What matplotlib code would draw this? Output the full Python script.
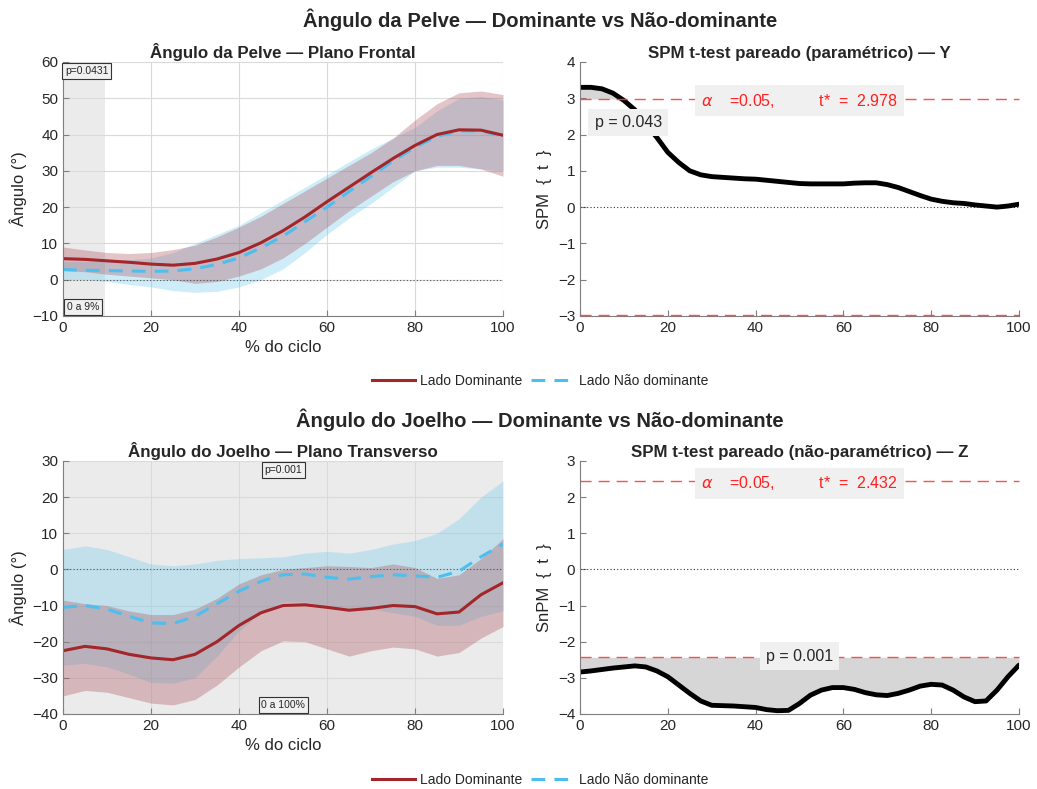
import matplotlib
matplotlib.use('Agg')
import matplotlib.pyplot as plt
from matplotlib.lines import Line2D
import numpy as np

plt.rcParams['font.family'] = ['Liberation Sans', 'DejaVu Sans']

# % do ciclo
ciclo = np.arange(0, 101, 5)
ciclo_spm = np.arange(0, 100.1, 2.5)

# Pelve - plano frontal
pelve_dom = [5.8, 5.6, 5.2, 4.8, 4.3, 4.0, 4.5, 5.7, 7.5, 10.2, 13.5, 17.3, 21.5, 25.5, 29.5, 33.4, 37.0, 40.0, 41.3, 41.2, 39.8]
pelve_dom_sup = [9.0, 8.2, 7.5, 7.2, 7.5, 8.3, 9.5, 11.8, 14.5, 17.5, 21.0, 24.5, 28.0, 31.5, 35.0, 39.0, 44.0, 48.5, 51.5, 52.0, 51.0]
pelve_dom_inf = [2.5, 2.2, 1.5, 1.0, 0.5, 0.0, -1.0, -0.5, 1.0, 3.0, 6.0, 10.0, 14.5, 19.0, 23.0, 27.0, 30.0, 31.5, 31.5, 30.5, 28.5]
pelve_nd = [2.8, 2.6, 2.5, 2.4, 2.3, 2.4, 3.0, 4.2, 6.0, 8.8, 12.0, 16.0, 20.0, 24.3, 28.5, 32.7, 36.5, 39.5, 41.0, 41.0, 39.6]
pelve_nd_sup = [5.0, 5.0, 5.0, 5.5, 6.0, 7.5, 10.0, 12.5, 15.0, 18.5, 22.0, 25.5, 29.0, 32.5, 36.0, 39.0, 42.0, 46.5, 50.0, 50.5, 49.5]
pelve_nd_inf = [0.0, 0.0, -0.5, -1.3, -2.0, -3.0, -3.5, -3.2, -2.0, 0.0, 3.0, 7.5, 12.5, 17.0, 21.0, 25.5, 30.0, 31.0, 31.0, 30.5, 30.0]

# SPM pelve (passo de 2.5%)
spm_y = [3.30, 3.30, 3.26, 3.14, 2.94, 2.68, 2.29, 1.92, 1.51, 1.23, 1.00, 0.89, 0.84, 0.82,
         0.80, 0.78, 0.77, 0.74, 0.71, 0.68, 0.65, 0.64, 0.64, 0.64, 0.64, 0.66, 0.67, 0.67,
         0.62, 0.54, 0.43, 0.32, 0.22, 0.16, 0.12, 0.10, 0.06, 0.03, 0.00, 0.03, 0.08]
tstar_y = 2.978

# Joelho - plano transverso
joelho_dom = [-22.5, -21.3, -22.0, -23.5, -24.5, -25.0, -23.5, -20.0, -15.5, -12.0, -10.0, -9.8, -10.5, -11.3, -10.8, -10.0, -10.3, -12.3, -11.8, -7.0, -3.7]
joelho_dom_sup = [-8.5, -9.5, -10.0, -11.5, -12.5, -12.5, -11.0, -8.0, -4.0, -1.5, 0.0, 0.5, 1.0, 0.8, 0.5, 1.5, 0.5, -2.5, -1.5, 3.0, 8.5]
joelho_dom_inf = [-35.0, -33.5, -34.0, -35.5, -37.0, -37.5, -36.0, -32.0, -27.0, -22.5, -19.8, -20.0, -22.0, -24.0, -22.5, -21.5, -22.0, -24.0, -23.0, -19.0, -15.8]
joelho_nd = [-10.5, -10.0, -11.0, -13.0, -14.8, -15.0, -13.0, -9.5, -6.0, -3.3, -1.5, -1.3, -2.2, -2.7, -2.0, -1.5, -1.8, -2.2, -0.5, 3.5, 7.0]
joelho_nd_sup = [5.5, 6.5, 5.5, 3.5, 1.5, 1.0, 1.5, 2.5, 3.0, 3.2, 3.5, 4.5, 5.0, 4.5, 5.5, 7.0, 8.0, 10.0, 14.0, 20.0, 24.5]
joelho_nd_inf = [-26.5, -26.0, -27.0, -29.0, -31.3, -31.5, -30.0, -24.0, -17.0, -12.0, -9.0, -9.0, -10.0, -11.0, -11.0, -12.0, -13.0, -15.5, -15.5, -13.0, -11.5]

# SnPM joelho (passo de 2.5%)
snpm_z = [-2.84, -2.81, -2.77, -2.73, -2.70, -2.67, -2.70, -2.81, -2.97, -3.20, -3.43, -3.64,
          -3.76, -3.77, -3.78, -3.80, -3.82, -3.88, -3.91, -3.90, -3.71, -3.48, -3.34, -3.27,
          -3.27, -3.32, -3.41, -3.47, -3.49, -3.43, -3.34, -3.23, -3.18, -3.20, -3.34, -3.53,
          -3.66, -3.64, -3.34, -2.97, -2.65]
tstar_z = 2.432

COR_DOM = '#a2262a'
COR_ND = '#4dbeee'
TXT = '#262626'
FUNDO = '#ebebeb'


def estilo(ax, grid=True):
    for s in ['top', 'right']:
        ax.spines[s].set_visible(False)
    for s in ['left', 'bottom']:
        ax.spines[s].set_color('#7f7f7f')
    ax.tick_params(direction='in', length=4, colors='#7f7f7f', labelcolor=TXT, labelsize=11)
    if grid:
        ax.grid(True, color='#dadada', lw=0.8)
        ax.set_axisbelow(True)
    ax.set_xlim(0, 100)
    ax.set_xticks([0, 20, 40, 60, 80, 100])


def curvas(ax, dom, dsup, dinf, nd, nsup, ninf):
    ax.axhline(0, color='#555555', lw=0.8, ls=(0, (1, 2)))
    ax.fill_between(ciclo, ninf, nsup, color='#6bc9eb', alpha=0.32, lw=0)
    ax.plot(ciclo, nd, color=COR_ND, lw=2.2, ls=(0, (4.5, 3)))
    ax.fill_between(ciclo, dinf, dsup, color='#a84c58', alpha=0.32, lw=0)
    ax.plot(ciclo, dom, color=COR_DOM, lw=2.2)


def caixa(ax, x, y, s):
    ax.text(x, y, s, fontsize=7.5, color=TXT, ha='center', va='center',
            bbox=dict(boxstyle='square,pad=0.25', fc='#f0f0f0', ec='#333333', lw=0.8))


def spm(ax, t, tstar, ylim, ylabel, label_p, px, py):
    estilo(ax, grid=False)
    t = np.array(t)
    ax.set_ylim(*ylim)
    ax.axhline(0, color='#333333', lw=0.8, ls=(0, (1, 2)))
    for s in [tstar, -tstar]:
        ax.axhline(s, color='#ff3b3b', lw=1.0, ls=(0, (8, 5)), alpha=0.9, clip_on=False, zorder=3)
    ax.fill_between(ciclo_spm, t, tstar, where=t > tstar, interpolate=True, color='#d6d6d6', lw=0)
    ax.fill_between(ciclo_spm, t, -tstar, where=t < -tstar, interpolate=True, color='#d6d6d6', lw=0)
    ax.plot(ciclo_spm, t, color='black', lw=3.5, solid_capstyle='round', solid_joinstyle='round')
    ax.set_ylabel(ylabel, fontsize=12, color=TXT)
    ax.text(50, tstar - 0.05, r'$\alpha$    =0.05,          t*  =  %.3f' % tstar, color='#ff2020',
            fontsize=11.5, ha='center', va='center',
            bbox=dict(boxstyle='square,pad=0.4', fc='#f0f0f0', ec='none'))
    ax.text(px, py, label_p, color=TXT, fontsize=11.5, ha='center', va='center',
            bbox=dict(boxstyle='square,pad=0.4', fc='#f0f0f0', ec='none'))


fig = plt.figure(figsize=(10.37, 7.89), dpi=100)

ax1 = fig.add_axes([0.0608, 0.5995, 0.4243, 0.322])
ax2 = fig.add_axes([0.5593, 0.5995, 0.4233, 0.322])
ax3 = fig.add_axes([0.0608, 0.0951, 0.4243, 0.3207])
ax4 = fig.add_axes([0.5593, 0.0951, 0.4233, 0.3207])

# pelve
estilo(ax1)
ax1.axvspan(0, 9.5, color=FUNDO, lw=0, zorder=0)
curvas(ax1, pelve_dom, pelve_dom_sup, pelve_dom_inf, pelve_nd, pelve_nd_sup, pelve_nd_inf)
ax1.set_ylim(-10, 60)
ax1.set_yticks(range(-10, 61, 10))
ax1.set_title('Ângulo da Pelve — Plano Frontal', fontsize=12.2, fontweight='bold', color=TXT, pad=3)
ax1.set_ylabel('Ângulo (°)', fontsize=12, color=TXT)
ax1.set_xlabel('% do ciclo', fontsize=12, color=TXT)
caixa(ax1, 5.4, 57.5, 'p=0.0431')
caixa(ax1, 4.6, -7.5, '0 a 9%')

spm(ax2, spm_y, tstar_y, (-3, 4), 'SPM  {  t  }', 'p = 0.043', 11, 2.33)
ax2.set_title('SPM t-test pareado (paramétrico) — Y', fontsize=12.2, fontweight='bold', color=TXT, pad=3)

# joelho
estilo(ax3)
ax3.axvspan(0, 100, color=FUNDO, lw=0, zorder=0)
curvas(ax3, joelho_dom, joelho_dom_sup, joelho_dom_inf, joelho_nd, joelho_nd_sup, joelho_nd_inf)
ax3.set_ylim(-40, 30)
ax3.set_yticks(range(-40, 31, 10))
ax3.set_title('Ângulo do Joelho — Plano Transverso', fontsize=12.2, fontweight='bold', color=TXT, pad=3)
ax3.set_ylabel('Ângulo (°)', fontsize=12, color=TXT)
ax3.set_xlabel('% do ciclo', fontsize=12, color=TXT)
caixa(ax3, 50, 27.5, 'p=0.001')
caixa(ax3, 50, -37.5, '0 a 100%')

spm(ax4, snpm_z, tstar_z, (-4, 3), 'SnPM  {  t  }', 'p = 0.001', 50, -2.4)
ax4.set_title('SPM t-test pareado (não-paramétrico) — Z', fontsize=12.2, fontweight='bold', color=TXT, pad=3)

fig.text(0.521, 0.975, 'Ângulo da Pelve — Dominante vs Não-dominante', fontsize=14.6,
         fontweight='bold', color=TXT, ha='center', va='center')
fig.text(0.521, 0.468, 'Ângulo do Joelho — Dominante vs Não-dominante', fontsize=14.6,
         fontweight='bold', color=TXT, ha='center', va='center')

handles = [Line2D([], [], color=COR_DOM, lw=2.2),
           Line2D([], [], color=COR_ND, lw=2.2, ls=(0, (4.5, 3)))]
labels = ['Lado Dominante', 'Lado Não dominante']
for yy in [0.517, 0.012]:
    fig.legend(handles, labels, loc='center', bbox_to_anchor=(0.521, yy), ncol=2, frameon=False,
               fontsize=10, handlelength=3.1, columnspacing=0.6, handletextpad=0.35,
               labelcolor=TXT)

fig.savefig('out.png', dpi=100)
